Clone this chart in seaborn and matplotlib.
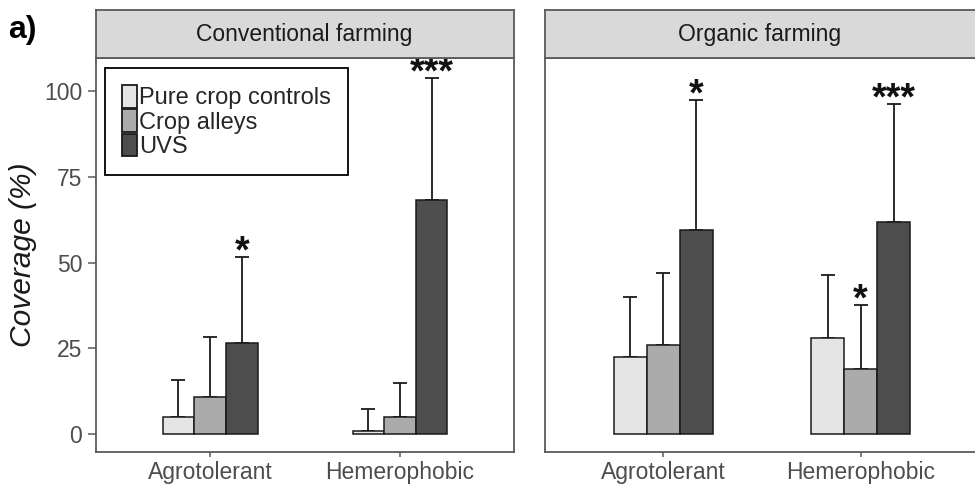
import pandas as pd
import numpy as np
import matplotlib
matplotlib.use('Agg')
import matplotlib.pyplot as plt
import seaborn as sns

# ---- data ----
systems = ['Conventional farming', 'Organic farming']
groups = ['Agrotolerant', 'Hemerophobic']
treatments = ['Pure crop controls', 'Crop alleys', 'UVS']

# mean coverage, order: system -> group -> treatment
conv_mean = [[5.1, 10.9, 26.7], [0.9, 5.1, 68.2]]
conv_err = [[10.6, 17.5, 25.1], [6.5, 9.9, 35.7]]
org_mean = [[22.5, 26.0, 59.4], [27.9, 19.1, 61.8]]
org_err = [[17.6, 21.1, 38.0], [18.6, 18.6, 34.4]]

conv_stars = [['', '', '*'], ['', '', '***']]
org_stars = [['', '', '*'], ['', '*', '***']]

colors = ['#E5E5E5', '#ABABAB', '#4D4D4D']
yticks = [0, 25, 50, 75, 100]

rows = []
for s, means, errs, stars in zip(systems, [conv_mean, org_mean], [conv_err, org_err], [conv_stars, org_stars]):
    for gi, g in enumerate(groups):
        for ti, t in enumerate(treatments):
            rows.append({'system': s, 'group': g, 'treatment': t,
                         'mean': means[gi][ti], 'err': errs[gi][ti], 'star': stars[gi][ti]})
df = pd.DataFrame(rows)

# ---- figure ----
sns.set_style('white')
plt.rcParams['font.family'] = ['Liberation Sans', 'DejaVu Sans']

W, H = 975, 490
fig = plt.figure(figsize=(9.75, 4.9), dpi=100)

def px_axes(x0, y0, x1, y1):
    return fig.add_axes([x0 / W, 1 - y1 / H, (x1 - x0) / W, (y1 - y0) / H])

# panel pixel extents and strip label centres
panels = [(96, 514), (545, 979)]
label_x = [304, 760]
frame_col = '#5A5A5A'

for i, (s, (x0, x1)) in enumerate(zip(systems, panels)):
    ax = px_axes(x0, 58, x1, 452)
    sub = df[df['system'] == s]
    sns.barplot(data=sub, x='group', y='mean', hue='treatment', order=groups,
                hue_order=treatments, palette=colors, width=0.5, errorbar=None,
                edgecolor='#1A1A1A', linewidth=1.1, saturation=1, ax=ax, zorder=3)

    # upper-only error bars and significance stars
    bar_sets = list(ax.containers)
    for ti, cont in enumerate(bar_sets):
        t = treatments[ti]
        for gi, bar in enumerate(cont):
            r = sub[(sub['group'] == groups[gi]) & (sub['treatment'] == t)].iloc[0]
            xc = bar.get_x() + bar.get_width() / 2
            ax.errorbar(xc, r['mean'], yerr=[[0], [r['err']]], fmt='none',
                        ecolor='#1A1A1A', elinewidth=1.3, capsize=4.7,
                        capthick=1.3, zorder=2)
            if r['star']:
                ax.annotate(r['star'], (xc, r['mean'] + r['err']),
                            xytext=(0, -4), textcoords='offset points',
                            ha='center', va='baseline', fontsize=27,
                            fontweight='bold', color='#111111', zorder=4)

    ax.set_xlim(-0.6, 1.6)
    ax.set_ylim(-5.2, 109.7)
    ax.set_yticks(yticks)
    ax.set_xlabel('')
    ax.set_ylabel('')
    for sp in ax.spines.values():
        sp.set_visible(True)
        sp.set_color(frame_col)
        sp.set_linewidth(1.3)
    ax.tick_params(axis='x', colors=frame_col, labelcolor='#4D4D4D',
                   labelsize=16.5, length=3.6, width=1.1, pad=3, direction='out',
                   bottom=True)
    ax.tick_params(axis='y', colors=frame_col, labelcolor='#4D4D4D',
                   labelsize=16.5, length=6, width=1.1, pad=4, direction='out',
                   left=(i == 0))
    if i > 0:
        ax.set_yticklabels([])

    if i == 0:
        leg = ax.legend(loc='upper left', bbox_to_anchor=(0.0215, 0.975),
                        fontsize=17, frameon=True, fancybox=False,
                        edgecolor='black', framealpha=1, borderpad=0.72,
                        labelspacing=0.0, handlelength=0.62, handleheight=1.1,
                        handletextpad=0.12, borderaxespad=0)
        leg.get_frame().set_linewidth(1.3)
        for h in leg.legend_handles:
            h.set_edgecolor('#1A1A1A')
            h.set_linewidth(1.3)
    else:
        if ax.get_legend() is not None:
            ax.get_legend().remove()

    # facet strip
    st = px_axes(x0, 10, x1, 58)
    st.set_facecolor('#D9D9D9')
    st.set_xticks([])
    st.set_yticks([])
    for sp in st.spines.values():
        sp.set_visible(True)
        sp.set_color(frame_col)
        sp.set_linewidth(1.3)
    fig.text(label_x[i] / W, 1 - 35 / H, s, ha='center', va='center',
             fontsize=16.5, color='#1A1A1A')

fig.text(23 / W, 1 - 255 / H, 'Coverage (%)', rotation=90, ha='center', va='center',
         fontsize=21.5, fontstyle='italic', color='#1A1A1A')
fig.text(8 / W, 1 - 30 / H, 'a)', ha='left', va='center', fontsize=23,
         fontweight='bold', color='black')

fig.savefig('out.png', dpi=100)
